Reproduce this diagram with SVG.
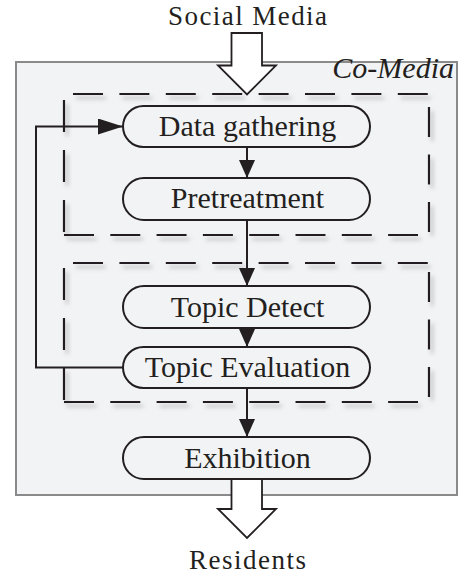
<svg xmlns="http://www.w3.org/2000/svg" width="461" height="576" viewBox="0 0 461 576">
<defs>
<style>
text{font-family:"Liberation Serif","Times New Roman",serif;font-size:30px;fill:#231f20;}
.lbl{text-anchor:middle;}
.ext{font-size:27px;}
.node rect{fill:#f2f3f5;stroke:#231f20;stroke-width:2;}
.dash line{stroke:#231f20;stroke-width:2.2;}
.conn{stroke:#231f20;stroke-width:2;fill:none;}
.hollow{fill:#ffffff;stroke:#231f20;stroke-width:1.8;stroke-linejoin:miter;}
</style>
<filter id="shadow" x="-10%" y="-10%" width="120%" height="120%">
<feDropShadow dx="3" dy="4" stdDeviation="2" flood-color="#8a8a8a" flood-opacity="0.6"/>
</filter>
<marker id="arr" markerUnits="userSpaceOnUse" markerWidth="18" markerHeight="18" viewBox="0 0 18 16" refX="18" refY="8" orient="auto">
<path d="M0,0 L18,8 L0,16 Z" fill="#231f20"/>
</marker>
<marker id="arrL" markerUnits="userSpaceOnUse" markerWidth="25" markerHeight="16" viewBox="0 0 25 16" refX="25" refY="8" orient="auto">
<path d="M0,0 L25,8 L0,16 Z" fill="#231f20"/>
</marker>
</defs>
<g id="co-media">
<rect x="16" y="62" width="441" height="433" fill="#f2f3f5" stroke="#8a8a8a" stroke-width="2"/>
<text x="454" y="78" text-anchor="end" font-style="italic">Co-Media</text>
</g>
<g id="group1" class="dash" filter="url(#shadow)">
<line x1="73" y1="94" x2="428" y2="94" stroke-dasharray="30 16.4"/>
<line x1="429" y1="107" x2="429" y2="232" stroke-dasharray="30 17.5"/>
<line x1="64" y1="235" x2="418" y2="235" stroke-dasharray="30 16.3"/>
<line x1="64" y1="100" x2="64" y2="232" stroke-dasharray="32 18"/>
</g>
<g id="group2" class="dash" filter="url(#shadow)">
<line x1="73" y1="263" x2="428" y2="263" stroke-dasharray="30 16.4"/>
<line x1="429" y1="272" x2="429" y2="397" stroke-dasharray="30 17.5"/>
<line x1="64" y1="402" x2="418" y2="402" stroke-dasharray="30 16.3"/>
<line x1="64" y1="268" x2="64" y2="400" stroke-dasharray="32 18"/>
</g>
<g id="data-gathering" class="node">
<rect x="123" y="106" width="247" height="41" rx="20.5"/>
<text class="lbl" x="247.5" y="136">Data gathering</text>
</g>
<g id="pretreatment" class="node">
<rect x="123" y="178" width="247" height="42" rx="21"/>
<text class="lbl" x="247.5" y="208">Pretreatment</text>
</g>
<g id="topic-detect" class="node">
<rect x="123" y="286" width="247" height="42" rx="21"/>
<text class="lbl" x="247.5" y="317">Topic Detect</text>
</g>
<g id="topic-evaluation" class="node">
<rect x="123" y="347" width="247" height="41" rx="20.5"/>
<text class="lbl" x="247.5" y="377">Topic Evaluation</text>
</g>
<g id="exhibition" class="node">
<rect x="123" y="437" width="247" height="42" rx="21"/>
<text class="lbl" x="247.5" y="468">Exhibition</text>
</g>
<g id="connectors">
<line class="conn" x1="247" y1="147" x2="247" y2="178" marker-end="url(#arr)"/>
<line class="conn" x1="247" y1="220" x2="247" y2="286" marker-end="url(#arr)"/>
<line class="conn" x1="247" y1="328" x2="247" y2="347" marker-end="url(#arr)"/>
<line class="conn" x1="247" y1="388" x2="247" y2="437" marker-end="url(#arr)"/>
<path class="conn" d="M123,367.5 H36 V126.5 H123" marker-end="url(#arrL)"/>
<path class="hollow" d="M231.5,33 H262 V65.5 H276 L247,94.5 L218,65.5 H231.5 Z"/>
<path class="hollow" d="M231.5,479 H262 V509 H276 L247,538 L218,509 H231.5 Z"/>
</g>
<g id="social-media">
<text class="lbl ext" x="247.5" y="24.5" textLength="159" lengthAdjust="spacing">Social Media</text>
</g>
<g id="residents">
<text class="lbl ext" x="247.5" y="569" textLength="117" lengthAdjust="spacing">Residents</text>
</g>
</svg>
